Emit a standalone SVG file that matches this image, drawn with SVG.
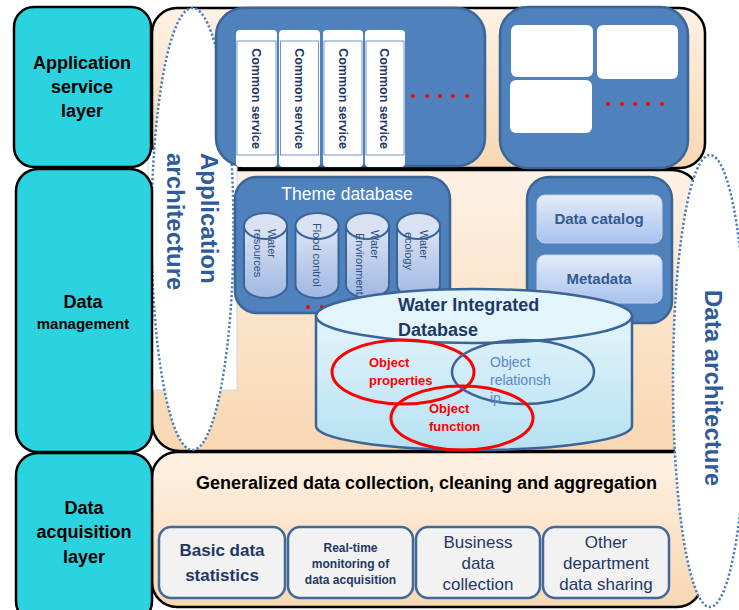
<svg xmlns="http://www.w3.org/2000/svg" width="739" height="610" viewBox="0 0 739 610">
<defs>
<linearGradient id="beige" x1="0" y1="0" x2="0" y2="1">
<stop offset="0" stop-color="#FDF1E5"/>
<stop offset="1" stop-color="#F8D7B2"/>
</linearGradient>
<linearGradient id="cyl" x1="0" y1="0" x2="0" y2="1">
<stop offset="0" stop-color="#DCE5F4"/>
<stop offset="1" stop-color="#9FB7E2"/>
</linearGradient>
<linearGradient id="catg" x1="0" y1="0" x2="0" y2="1">
<stop offset="0" stop-color="#E3ECFA"/>
<stop offset="1" stop-color="#A9C2EC"/>
</linearGradient>
<linearGradient id="widb" x1="0" y1="0" x2="0" y2="1">
<stop offset="0" stop-color="#E3F4FB"/>
<stop offset="1" stop-color="#B6E1F2"/>
</linearGradient>
</defs>
<style>
.cyan{fill:#2AD3DF;stroke:#000;stroke-width:2.5}
.row{fill:url(#beige);stroke:#000;stroke-width:2.5}
.blue{fill:#4F81BD;stroke:#3B6597;stroke-width:2.5}
.dotted{fill:#fff;stroke:#4A7DBA;stroke-width:2.5;stroke-dasharray:2.2 2.2}
.col{fill:#fff}
.colin{fill:none;stroke:#6F95C8;stroke-width:1}
.cylb{fill:url(#cyl);stroke:#3B6597;stroke-width:2}
.cylc{fill:#D8E2F3;stroke:#3B6597;stroke-width:2}
.cat{fill:url(#catg);stroke:#C3D4EE;stroke-width:1}
.bbox{fill:#F2F2F2;stroke:#41689A;stroke-width:2.5}
.rd{fill:#FF0000}
.f{font-family:"Liberation Sans",Arial,sans-serif}
.lay{font-size:18px;font-weight:bold;fill:#000;text-anchor:middle}
.arch{font-size:24px;font-weight:bold;fill:#2F5B9A}
.cs{font-size:12.5px;font-weight:bold;fill:#203864;text-anchor:middle}
.ct{font-size:11px;fill:#2E4D80}
.dk{fill:#1F3864}
.red{font-size:13px;font-weight:bold;fill:#FF0000}
</style>

<g id="rows">
<rect class="row" x="152" y="8" width="553" height="160" rx="25"/>
<rect class="row" x="152" y="170" width="548" height="281" rx="28"/>
<rect class="row" x="152" y="452" width="550" height="155" rx="25"/>
</g>

<g id="data-architecture">
<ellipse class="dotted" cx="710" cy="381" rx="37" ry="226"/>
<text class="f arch" transform="translate(705,290) rotate(90)">Data architecture</text>
</g>

<g id="application-architecture">
<rect x="148" y="150" width="89" height="240" fill="#fff" stroke="#D6D6D6" stroke-width="1"/>
<ellipse class="dotted" cx="192.5" cy="229" rx="41" ry="221"/>
</g>

<g id="layer-application-service">
<rect class="cyan" x="14" y="7" width="137" height="160" rx="20"/>
<text class="f lay" x="82" y="69">Application</text>
<text class="f lay" x="82" y="93">service</text>
<text class="f lay" x="82" y="117">layer</text>
</g>
<g id="layer-data-management">
<rect class="cyan" x="16" y="169" width="136" height="283" rx="22"/>
<text class="f lay" x="83" y="308">Data</text>
<text class="f" x="83" y="329" font-size="15" font-weight="bold" text-anchor="middle">management</text>
</g>
<g id="layer-data-acquisition">
<rect class="cyan" x="16" y="453" width="136" height="170" rx="22"/>
<text class="f lay" x="84" y="514">Data</text>
<text class="f lay" x="84" y="538">acquisition</text>
<text class="f lay" x="84" y="563">layer</text>
</g>

<g id="common-services">
<rect class="blue" x="216" y="8" width="269" height="158" rx="28"/>
<rect class="col" x="236" y="30" width="41" height="137" rx="4"/>
<rect class="colin" x="237" y="41" width="39" height="114"/>
<rect class="col" x="279" y="30" width="41" height="137" rx="4"/>
<rect class="colin" x="280.5" y="41" width="38" height="114"/>
<rect class="col" x="323" y="30" width="40" height="137" rx="4"/>
<rect class="colin" x="324" y="41" width="38" height="114"/>
<rect class="col" x="365" y="30" width="40" height="137" rx="4"/>
<rect class="colin" x="366" y="41" width="38" height="114"/>
<text class="f cs" transform="translate(252,98.5) rotate(90)">Common service</text>
<text class="f cs" transform="translate(295,98.5) rotate(90)">Common service</text>
<text class="f cs" transform="translate(339,98.5) rotate(90)">Common service</text>
<text class="f cs" transform="translate(380,98.5) rotate(90)">Common service</text>
<circle class="rd" cx="413" cy="96" r="2"/>
<circle class="rd" cx="427" cy="96" r="2"/>
<circle class="rd" cx="440" cy="96" r="2"/>
<circle class="rd" cx="453" cy="96" r="2"/>
<circle class="rd" cx="467" cy="96" r="2"/>
</g>

<g id="applications">
<rect class="blue" x="500" y="7" width="188" height="161" rx="28"/>
<rect x="511" y="25" width="82" height="52" rx="6" fill="#fff"/>
<rect x="597" y="25" width="81" height="54" rx="6" fill="#fff"/>
<rect x="510" y="80" width="82" height="53" rx="6" fill="#fff"/>
<circle class="rd" cx="608" cy="104" r="2"/>
<circle class="rd" cx="622" cy="104" r="2"/>
<circle class="rd" cx="635" cy="104" r="2"/>
<circle class="rd" cx="648" cy="104" r="2"/>
<circle class="rd" cx="662" cy="104" r="2"/>
</g>

<g id="app-arch-label">
<text class="f arch" transform="translate(201,153) rotate(90)">Application</text>
<text class="f arch" transform="translate(167,153) rotate(90)">architecture</text>
</g>

<g id="theme-database">
<rect class="blue" x="235" y="177" width="215" height="136" rx="22"/>
<text class="f" x="347" y="200" font-size="17.5" fill="#fff" text-anchor="middle">Theme database</text>
<path class="cylb" d="M244,226 V285 A21.5,13 0 0 0 287,285 V226 Z"/>
<ellipse class="cylc" cx="265.5" cy="226" rx="21.5" ry="13"/>
<path class="cylb" d="M295.5,226 V285 A21.5,13 0 0 0 338.5,285 V226 Z"/>
<ellipse class="cylc" cx="317" cy="226" rx="21.5" ry="13"/>
<path class="cylb" d="M346,226 V285 A21.5,13 0 0 0 389,285 V226 Z"/>
<ellipse class="cylc" cx="367.5" cy="226" rx="21.5" ry="13"/>
<path class="cylb" d="M397,226 V285 A21.5,13 0 0 0 440,285 V226 Z"/>
<ellipse class="cylc" cx="418.5" cy="226" rx="21.5" ry="13"/>
<text class="f ct" transform="translate(268,229) rotate(90)">Water</text>
<text class="f ct" transform="translate(254,229) rotate(90)">resources</text>
<text class="f ct" transform="translate(313,223) rotate(90)">Flood control</text>
<text class="f ct" transform="translate(371,230) rotate(90)">Water</text>
<text class="f ct" transform="translate(356,233) rotate(90)">Environment</text>
<text class="f ct" transform="translate(420,230) rotate(90)">Water</text>
<text class="f ct" transform="translate(405,232) rotate(90)">ecology</text>
<circle class="rd" cx="308" cy="307" r="2"/>
<circle class="rd" cx="322" cy="307" r="2"/>
</g>

<g id="data-catalog">
<rect class="blue" x="527" y="177" width="145" height="146" rx="22"/>
<rect class="cat" x="537" y="195" width="125" height="48" rx="8"/>
<text class="f" x="599" y="224" font-size="15" font-weight="bold" fill="#335A92" text-anchor="middle">Data catalog</text>
<rect class="cat" x="537" y="255" width="125" height="48" rx="8"/>
<text class="f" x="599" y="284" font-size="15" font-weight="bold" fill="#335A92" text-anchor="middle">Metadata</text>
</g>

<g id="water-integrated-database">
<path d="M316,316 V426 A158,24 0 0 0 632,426 V316 Z" fill="url(#widb)" stroke="#3B6597" stroke-width="2.5"/>
<ellipse cx="474" cy="316" rx="158" ry="27" fill="#E4F4FB" stroke="#3B6597" stroke-width="2.5"/>
<text class="f dk" x="398" y="311" font-size="18" font-weight="bold">Water Integrated</text>
<text class="f dk" x="398" y="336" font-size="18" font-weight="bold">Database</text>
<ellipse cx="403" cy="372" rx="71" ry="32" fill="none" stroke="#FF0000" stroke-width="3"/>
<ellipse cx="523" cy="372" rx="71" ry="32" fill="none" stroke="#3B6597" stroke-width="2.5"/>
<ellipse cx="462" cy="418" rx="71" ry="32" fill="none" stroke="#FF0000" stroke-width="3"/>
<text class="f red" x="369" y="367">Object</text>
<text class="f red" x="369" y="385">properties</text>
<text class="f" x="490" y="367" font-size="14" fill="#5A86C5">Object</text>
<text class="f" x="490" y="385" font-size="14" fill="#5A86C5">relationsh</text>
<text class="f" x="490" y="403" font-size="14" fill="#5A86C5">ip</text>
<text class="f red" x="429" y="413">Object</text>
<text class="f red" x="429" y="431">function</text>
</g>

<g id="data-collection">
<text class="f" x="426.5" y="489" font-size="18" font-weight="bold" fill="#000" text-anchor="middle">Generalized data collection, cleaning and aggregation</text>
</g>
<g id="basic-data-statistics">
<rect class="bbox" x="159" y="527" width="126" height="71" rx="12"/>
<text class="f dk" x="222" y="556" font-size="17" font-weight="bold" text-anchor="middle">Basic data</text>
<text class="f dk" x="222" y="581" font-size="17" font-weight="bold" text-anchor="middle">statistics</text>
</g>
<g id="real-time-monitoring">
<rect class="bbox" x="288" y="527" width="125" height="71" rx="12"/>
<text class="f dk" x="350.5" y="552" font-size="12" font-weight="bold" text-anchor="middle">Real-time</text>
<text class="f dk" x="350.5" y="568" font-size="12" font-weight="bold" text-anchor="middle">monitoring of</text>
<text class="f dk" x="350.5" y="584" font-size="12" font-weight="bold" text-anchor="middle">data acquisition</text>
</g>
<g id="business-data-collection">
<rect class="bbox" x="416" y="527" width="124" height="71" rx="12"/>
<text class="f dk" x="478" y="548" font-size="17" text-anchor="middle">Business</text>
<text class="f dk" x="478" y="569" font-size="17" text-anchor="middle">data</text>
<text class="f dk" x="478" y="590" font-size="17" text-anchor="middle">collection</text>
</g>
<g id="department-data-sharing">
<rect class="bbox" x="543" y="527" width="126" height="71" rx="12"/>
<text class="f dk" x="606" y="548" font-size="17" text-anchor="middle">Other</text>
<text class="f dk" x="606" y="569" font-size="17" text-anchor="middle">department</text>
<text class="f dk" x="606" y="590" font-size="17" text-anchor="middle">data sharing</text>
</g>
<g id="connectors"></g>
</svg>
